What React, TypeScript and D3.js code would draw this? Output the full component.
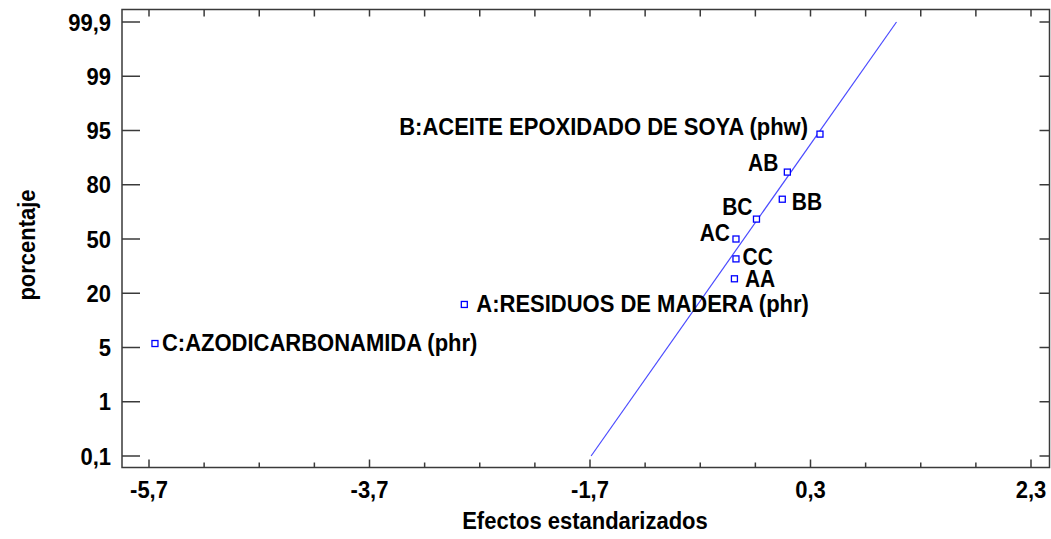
import React from 'react';
import * as d3 from 'd3';

// normal probability plot of standardized effects
const effectNames = ['C:AZODICARBONAMIDA (phr)', 'A:RESIDUOS DE MADERA (phr)', 'AA', 'CC', 'AC', 'BC', 'BB', 'AB', 'B:ACEITE EPOXIDADO DE SOYA (phw)'];
const effectValues = [-5.646, -2.84, -0.39, -0.376, -0.376, -0.19, 0.044, 0.09, 0.386];
const effectPercents = [6.1, 16.9, 28, 39, 50, 61, 72, 83.5, 94];

const yTickValues = [0.1, 1, 5, 20, 50, 80, 95, 99, 99.9];
const xLabelTicks = [-5.7, -3.7, -1.7, 0.3, 2.3];
const xMinorTicks = d3.range(17).map(i => -5.7 + i * 0.5);

// reference line endpoints [effect, percent]
const refLine: [number, number][] = [[-1.69, 0.1], [1.08, 99.9]];

// label placement: anchor, dx, dy (baseline offset)
const labelPlace: Record<string, [string, number, number]> = {
  'C:AZODICARBONAMIDA (phr)': ['start', 7, 7.5],
  'A:RESIDUOS DE MADERA (phr)': ['start', 12, 7.5],
  AA: ['start', 10.5, 8.5],
  CC: ['start', 6.5, 6],
  AC: ['end', -6, 1.5],
  BC: ['end', -4, -4],
  BB: ['start', 9.5, 11],
  AB: ['end', -9, -1],
  'B:ACEITE EPOXIDADO DE SOYA (phw)': ['end', -12, 1],
};

const W = 1051;
const H = 539;
const frame = { left: 122, right: 1049.5, top: 9.5, bottom: 467.5 };

const fmt = (v: number) => String(Math.round(v * 10) / 10).replace('.', ',');

// text slightly stretched vertically, like the original export
const Txt: React.FC<{ x: number; y: number; anchor?: string; size?: number; rotate?: number; children: React.ReactNode }> =
  ({ x, y, anchor = 'start', size = 22, rotate = 0, children }) => (
    <text transform={`translate(${x},${y}) rotate(${rotate}) scale(1,1.1)`} textAnchor={anchor as any}
      fontSize={size} fill="#000">{children}</text>
  );

const App: React.FC = () => {
  const x = d3.scaleLinear().domain([-5.7, 2.3]).range([149, 1031]);
  const y = d3.scaleLinear()
    .domain(yTickValues)
    .range(yTickValues.map((_, i) => 456 - i * 54.25));

  const line = d3.line<[number, number]>()
    .x(d => x(d[0]))
    .y(d => y(d[1]));

  const font = "'Liberation Sans', Arial, sans-serif";
  const axisColor = '#3a3a3a';

  return (
    <svg width={W} height={H} style={{ position: 'absolute', left: 0, top: 0, background: '#fff' }}
      fontFamily={font} fontWeight="bold">
      <rect x={frame.left} y={frame.top} width={frame.right - frame.left} height={frame.bottom - frame.top}
        fill="none" stroke={axisColor} strokeWidth={1.5} />

      {/* y ticks */}
      {yTickValues.map(v => (
        <g key={'y' + v}>
          <line x1={frame.left} x2={frame.left + 18} y1={y(v)} y2={y(v)} stroke={axisColor} strokeWidth={1.5} />
          <line x1={frame.right - 10} x2={frame.right} y1={y(v)} y2={y(v)} stroke={axisColor} strokeWidth={1.5} />
          <Txt x={111} y={y(v) + 8.5} anchor="end">{fmt(v)}</Txt>
        </g>
      ))}

      {/* x ticks */}
      {xMinorTicks.map(v => {
        const major = xLabelTicks.some(t => Math.abs(t - v) < 1e-6);
        return (
          <g key={'x' + v.toFixed(1)}>
            <line x1={x(v)} x2={x(v)} y1={frame.bottom} y2={frame.bottom - (major ? 8 : 5)} stroke={axisColor} strokeWidth={1.5} />
            <line x1={x(v)} x2={x(v)} y1={frame.top} y2={frame.top + 7} stroke={axisColor} strokeWidth={1.5} />
          </g>
        );
      })}
      {xLabelTicks.map(v => (
        <Txt key={'xl' + v} x={x(v)} y={498} anchor="middle">{fmt(v)}</Txt>
      ))}

      {/* reference line */}
      <path d={line(refLine) || ''} fill="none" stroke="#4a4aff" strokeWidth={1.2} />

      {/* points and labels */}
      {effectNames.map((name, i) => {
        const px = x(effectValues[i]);
        const py = y(effectPercents[i]);
        const [anchor, dx, dy] = labelPlace[name];
        return (
          <g key={name}>
            <rect x={px - 3} y={py - 3} width={6} height={6} fill="#fff" stroke="#0000ff" strokeWidth={1.3} />
            <Txt x={px + dx} y={py + dy} anchor={anchor} size={name.length <= 2 ? 21 : 22}>{name}</Txt>
          </g>
        );
      })}

      {/* axis titles */}
      <Txt x={585} y={529} anchor="middle">Efectos estandarizados</Txt>
      <Txt x={35} y={245} anchor="middle" rotate={-90}>porcentaje</Txt>
    </svg>
  );
};

export default App;
